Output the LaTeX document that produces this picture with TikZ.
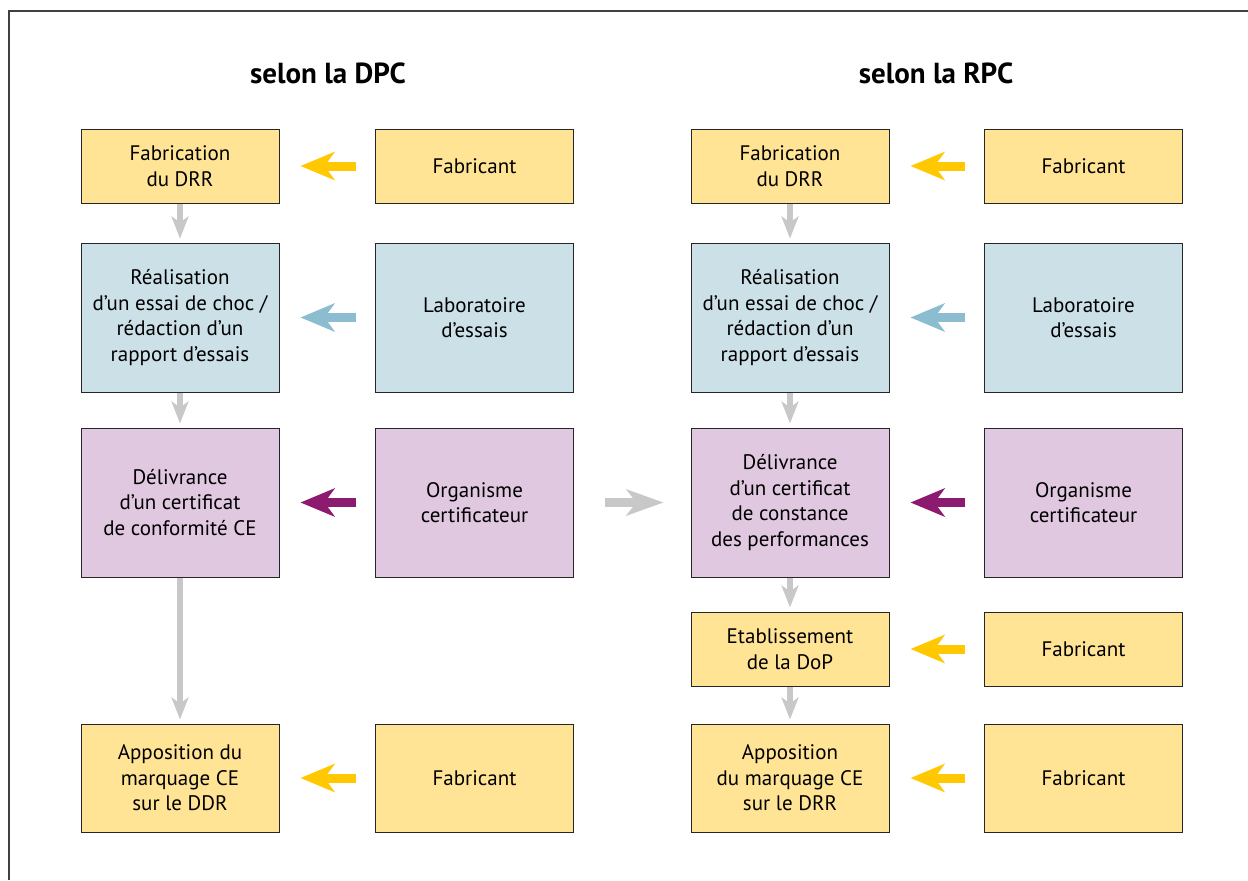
\documentclass[tikz,border=0pt]{standalone}
\usepackage{fontspec}
\setmainfont{PT Sans}
\usetikzlibrary{arrows.meta,shadows}
\definecolor{jaune}{RGB}{255,228,150}
\definecolor{bleu}{RGB}{204,224,232}
\definecolor{mauve}{RGB}{224,200,224}
\definecolor{fjaune}{RGB}{255,200,0}
\definecolor{fbleu}{RGB}{140,188,208}
\definecolor{fmauve}{RGB}{140,26,110}
\definecolor{fgris}{RGB}{200,200,200}

\begin{document}
\begin{tikzpicture}[x=0.5pt,y=-0.5pt,
	box/.style={draw=black!85, line width=0.5pt, align=center, inner sep=0pt,
		minimum width=99pt, font=\fontsize{10.5}{12.8}\selectfont,
		drop shadow={shadow xshift=0.45pt, shadow yshift=-0.45pt, fill=black!85, opacity=1}},
	petit/.style={box, minimum height=37pt},
	grand/.style={box, minimum height=74.5pt},
	moyen/.style={box, minimum height=54pt},
	titre/.style={font=\fontsize{14.5}{17}\selectfont\bfseries},
	fleche/.style={line width=4.5pt, -{Stealth[length=17pt, width=14pt, inset=5pt]},
		shorten <=9.5pt, shorten >=10.5pt},
	descente/.style={draw=fgris, line width=3pt, -{Stealth[length=11pt, width=8.5pt, inset=3pt]},
		shorten >=2pt}]
	\useasboundingbox (0,0) rectangle (1248,880);
	\draw[line width=1pt, black!75] (9,880) -- (9,11) -- (1248,11);

	\node[titre] (tdpc) at (328,73) {selon la DPC};
	\node[titre] (trpc) at (936,73) {selon la RPC};

	% selon la DPC
	\node[petit, fill=jaune] (fabricationA) at (180,166) {Fabrication\\du DRR};
	\node[petit, fill=jaune] (fabricantA) at (474.5,166) {Fabricant};
	\node[grand, fill=bleu] (essaiA) at (180,317.5) {Réalisation\\d’un essai de choc /\\rédaction d’un\\rapport d’essais};
	\node[grand, fill=bleu] (laboA) at (474.5,317.5) {Laboratoire\\d’essais};
	\node[grand, fill=mauve] (certifA) at (180,502.5) {Délivrance\\d’un certificat\\de conformité CE};
	\node[grand, fill=mauve] (organismeA) at (474.5,502.5) {Organisme\\certificateur};
	\node[moyen, fill=jaune] (marquageA) at (180,778) {Apposition du\\marquage CE\\sur le DDR};
	\node[moyen, fill=jaune] (fabricantD) at (474.5,778) {Fabricant};

	% selon la RPC
	\node[petit, fill=jaune] (fabricationB) at (790,166) {Fabrication\\du DRR};
	\node[petit, fill=jaune] (fabricantB) at (1083.5,166) {Fabricant};
	\node[grand, fill=bleu] (essaiB) at (790,317.5) {Réalisation\\d’un essai de choc /\\rédaction d’un\\rapport d’essais};
	\node[grand, fill=bleu] (laboB) at (1083.5,317.5) {Laboratoire\\d’essais};
	\node[grand, fill=mauve] (certifB) at (790,502.5) {Délivrance\\d’un certificat\\de constance\\des performances};
	\node[grand, fill=mauve] (organismeB) at (1083.5,502.5) {Organisme\\certificateur};
	\node[petit, fill=jaune] (dopB) at (790,649) {Etablissement\\de la DoP};
	\node[petit, fill=jaune] (fabricantC) at (1083.5,649) {Fabricant};
	\node[moyen, fill=jaune] (marquageB) at (790,778) {Apposition\\du marquage CE\\sur le DRR};
	\node[moyen, fill=jaune] (fabricantE) at (1083.5,778) {Fabricant};

	% fleches laterales
	\draw[fleche, fjaune] (fabricantA) -- (fabricationA);
	\draw[fleche, fbleu] (laboA) -- (essaiA);
	\draw[fleche, fmauve] (organismeA) -- (certifA);
	\draw[fleche, fjaune] (fabricantD) -- (marquageA);
	\draw[fleche, fjaune] (fabricantB) -- (fabricationB);
	\draw[fleche, fbleu] (laboB) -- (essaiB);
	\draw[fleche, fmauve] (organismeB) -- (certifB);
	\draw[fleche, fjaune] (fabricantC) -- (dopB);
	\draw[fleche, fjaune] (fabricantE) -- (marquageB);

	% fleches de la suite
	\draw[descente] (fabricationA) -- (essaiA);
	\draw[descente] (essaiA) -- (certifA);
	\draw[descente] (certifA) -- (marquageA);
	\draw[descente] (fabricationB) -- (essaiB);
	\draw[descente] (essaiB) -- (certifB);
	\draw[descente] (certifB) -- (dopB);
	\draw[descente] (dopB) -- (marquageB);

	% passage DPC -> RPC
	\draw[fgris, line width=4.5pt, -{Stealth[length=18.5pt, width=13pt, inset=5pt]},
		shorten <=15.5pt, shorten >=13.5pt] (organismeA) -- (certifB);
\end{tikzpicture}
\end{document}
